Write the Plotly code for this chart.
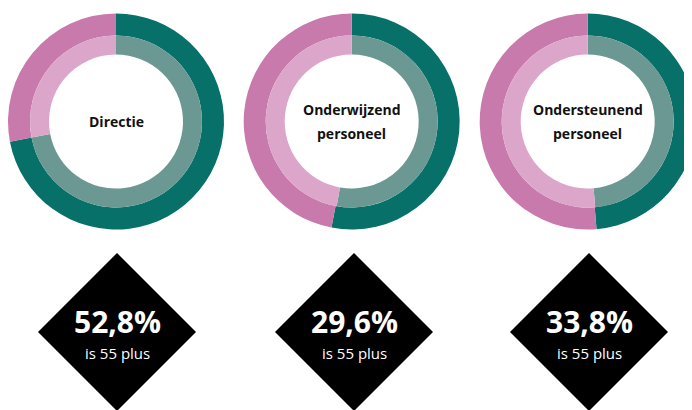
import plotly.graph_objects as go

# ---- data ----
groups = ["Directie", "Onderwijzend personeel", "Ondersteunend personeel"]
group_lines = [["Directie"], ["Onderwijzend", "personeel"], ["Ondersteunend", "personeel"]]
segment_labels = ["Groen", "Roze"]
outer_values = [[72.0, 28.0], [53.0, 47.0], [48.7, 51.3]]
inner_values = [[72.0, 28.0], [52.8, 47.2], [48.6, 51.4]]
pct_55_plus = [52.8, 29.6, 33.8]
sub_label = "is 55 plus"

# ---- layout constants (pixels, page coords; page has 8px body margin) ----
W, H = 692, 410
OFF = 8
donut_cx = [116 - OFF, 351.7 - OFF, 587.7 - OFF]
donut_cy = 121.5 - OFF
R_OUT, R_MID, R_HOLE = 108, 86, 67
diamond_cx = [117 - OFF, 354 - OFF, 589 - OFF]
diamond_cy = 332 - OFF
DIAG = 79
LINE_GAP = 24

outer_colors = ["#067069", "#c87aac"]
inner_colors = ["#6c9893", "#dba6ca"]


def px_domain(cx, cy, r):
    return dict(x=[(cx - r) / W, (cx + r) / W],
                y=[(H - cy - r) / H, (H - cy + r) / H])


fig = go.Figure()
for i, g in enumerate(groups):
    fig.add_trace(go.Pie(
        labels=segment_labels, values=outer_values[i], name=g,
        domain=px_domain(donut_cx[i], donut_cy, R_OUT),
        hole=R_MID / R_OUT, sort=False, direction="clockwise", rotation=0,
        marker=dict(colors=outer_colors, line=dict(width=0)),
        textinfo="none", hoverinfo="skip", showlegend=False))
    fig.add_trace(go.Pie(
        labels=segment_labels, values=inner_values[i], name=g,
        domain=px_domain(donut_cx[i], donut_cy, R_MID),
        hole=R_HOLE / R_MID, sort=False, direction="clockwise", rotation=0,
        marker=dict(colors=inner_colors, line=dict(width=0)),
        textinfo="none", hoverinfo="skip", showlegend=False))

annotations = []
shapes = []
for i, g in enumerate(groups):
    lines = group_lines[i]
    n = len(lines)
    for k, ln in enumerate(lines):
        py = donut_cy + (k - (n - 1) / 2) * LINE_GAP
        annotations.append(dict(
            x=donut_cx[i] / W, y=1 - py / H, xref="paper", yref="paper",
            text=f"<b>{ln}</b>", showarrow=False, xanchor="center", yanchor="middle",
            font=dict(family="Open Sans", size=14, color="#111111")))
    cx, cy = diamond_cx[i], diamond_cy
    dx, dy = DIAG / W, DIAG / H
    xc, yc = cx / W, 1 - cy / H
    shapes.append(dict(
        type="path", xref="paper", yref="paper",
        path=f"M {xc},{yc + dy} L {xc + dx},{yc} L {xc},{yc - dy} L {xc - dx},{yc} Z",
        fillcolor="#000000", line=dict(width=0), layer="above"))
    pct_txt = f"{pct_55_plus[i]:.1f}".replace(".", ",") + "%"
    annotations.append(dict(
        x=xc, y=1 - (321 - OFF) / H, xref="paper", yref="paper",
        text=f"<b>{pct_txt}</b>", showarrow=False, xanchor="center", yanchor="middle",
        font=dict(family="Open Sans", size=30, color="#ffffff")))
    annotations.append(dict(
        x=xc, y=1 - (353 - OFF) / H, xref="paper", yref="paper",
        text=sub_label, showarrow=False, xanchor="center", yanchor="middle",
        font=dict(family="Open Sans", size=15, color="#ffffff")))

fig.update_layout(
    width=W, height=H, margin=dict(l=0, r=0, t=0, b=0),
    paper_bgcolor="#ffffff", plot_bgcolor="#ffffff",
    shapes=shapes, annotations=annotations, showlegend=False)

fig.write_html("out.html")
